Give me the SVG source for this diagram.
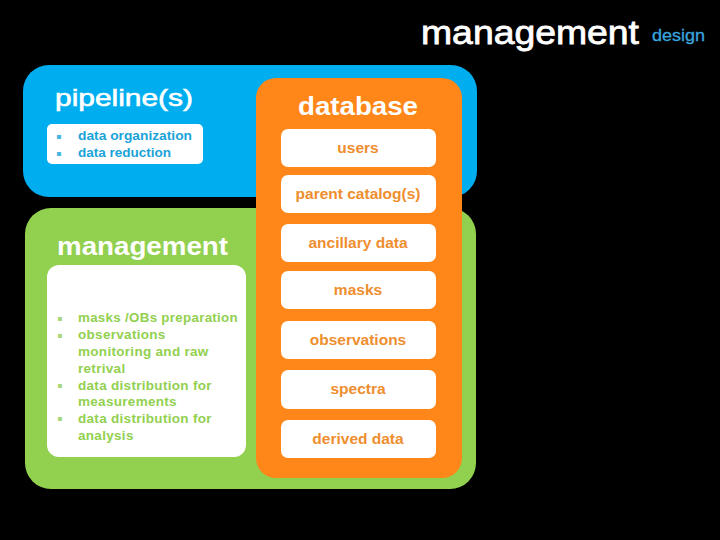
<svg xmlns="http://www.w3.org/2000/svg" width="720" height="540" viewBox="0 0 720 540">
<style>
  .f { font-family: "Liberation Sans", Arial, sans-serif; }
  .wbox { fill: #ffffff; }
  .dbl { font-family: "Liberation Sans", Arial, sans-serif; font-weight: bold; font-size: 15.5px; fill: #EE8E2E; text-anchor: middle; }
  .bl { font-family: "Liberation Sans", Arial, sans-serif; font-weight: bold; font-size: 13.5px; fill: #1AA3D8; }
  .gl { font-family: "Liberation Sans", Arial, sans-serif; font-weight: bold; font-size: 13.5px; fill: #92D050; letter-spacing: 0.3px; }
  .bul { font-family: "DejaVu Sans", sans-serif; font-size: 8px; }
</style>
<rect x="0" y="0" width="720" height="540" fill="#000000"/>
<g id="title">
  <text class="f" x="421" y="44" font-size="34" fill="#ffffff" stroke="#ffffff" stroke-width="0.8" textLength="218" lengthAdjust="spacingAndGlyphs">management</text>
  <text class="f" x="652" y="41" font-size="16" fill="#3AA5DD" stroke="#3AA5DD" stroke-width="0.3" textLength="53" lengthAdjust="spacingAndGlyphs">design</text>
</g>
<g id="connectors"></g>
<g id="pipeline">
  <rect x="23" y="65" width="454" height="132" rx="26" fill="#00AEEF"/>
  <text class="f" x="55" y="106" font-size="24" fill="#ffffff" stroke="#ffffff" stroke-width="0.6" textLength="138" lengthAdjust="spacingAndGlyphs">pipeline(s)</text>
  <rect class="wbox" x="47" y="124" width="156" height="40" rx="5"/>
  <text class="bul" x="56" y="139" fill="#45B4E0">▪</text>
  <text class="bul" x="56" y="156" fill="#45B4E0">▪</text>
  <text class="bl" x="78" y="140" textLength="114" lengthAdjust="spacingAndGlyphs">data organization</text>
  <text class="bl" x="78" y="157">data reduction</text>
</g>
<g id="management">
  <rect x="25" y="208" width="451" height="281" rx="26" fill="#92D050"/>
  <text class="f" x="57" y="255" font-size="26" font-weight="bold" fill="#ffffff" textLength="171" lengthAdjust="spacingAndGlyphs">management</text>
  <rect class="wbox" x="47" y="265" width="199" height="192" rx="12"/>
  <text class="bul" x="57" y="321" fill="#A8D87A">▪</text>
  <text class="bul" x="57" y="338" fill="#A8D87A">▪</text>
  <text class="bul" x="57" y="388" fill="#A8D87A">▪</text>
  <text class="bul" x="57" y="421" fill="#A8D87A">▪</text>
  <text class="gl" x="78" y="322" textLength="160" lengthAdjust="spacingAndGlyphs">masks /OBs preparation</text>
  <text class="gl" x="78" y="339">observations</text>
  <text class="gl" x="78" y="356">monitoring and raw</text>
  <text class="gl" x="78" y="373">retrival</text>
  <text class="gl" x="78" y="390">data distribution for</text>
  <text class="gl" x="78" y="406">measurements</text>
  <text class="gl" x="78" y="423">data distribution for</text>
  <text class="gl" x="78" y="440">analysis</text>
</g>
<g id="database">
  <rect x="256" y="78" width="206" height="400" rx="20" fill="#FF8618"/>
  <text class="f" x="358" y="115" font-size="25" font-weight="bold" fill="#ffffff" text-anchor="middle" textLength="120" lengthAdjust="spacingAndGlyphs">database</text>
</g>
<g id="users"><rect class="wbox" x="281" y="129" width="155" height="38" rx="7"/><text class="dbl" x="358" y="153">users</text></g>
<g id="parent-catalog"><rect class="wbox" x="281" y="175" width="155" height="38" rx="7"/><text class="dbl" x="358" y="199">parent catalog(s)</text></g>
<g id="ancillary-data"><rect class="wbox" x="281" y="224" width="155" height="38" rx="7"/><text class="dbl" x="358" y="248">ancillary data</text></g>
<g id="masks"><rect class="wbox" x="281" y="271" width="155" height="38" rx="7"/><text class="dbl" x="358" y="295">masks</text></g>
<g id="observations"><rect class="wbox" x="281" y="321" width="155" height="38" rx="7"/><text class="dbl" x="358" y="345">observations</text></g>
<g id="spectra"><rect class="wbox" x="281" y="370" width="155" height="39" rx="7"/><text class="dbl" x="358" y="394">spectra</text></g>
<g id="derived-data"><rect class="wbox" x="281" y="420" width="155" height="38" rx="7"/><text class="dbl" x="358" y="444">derived data</text></g>
</svg>
